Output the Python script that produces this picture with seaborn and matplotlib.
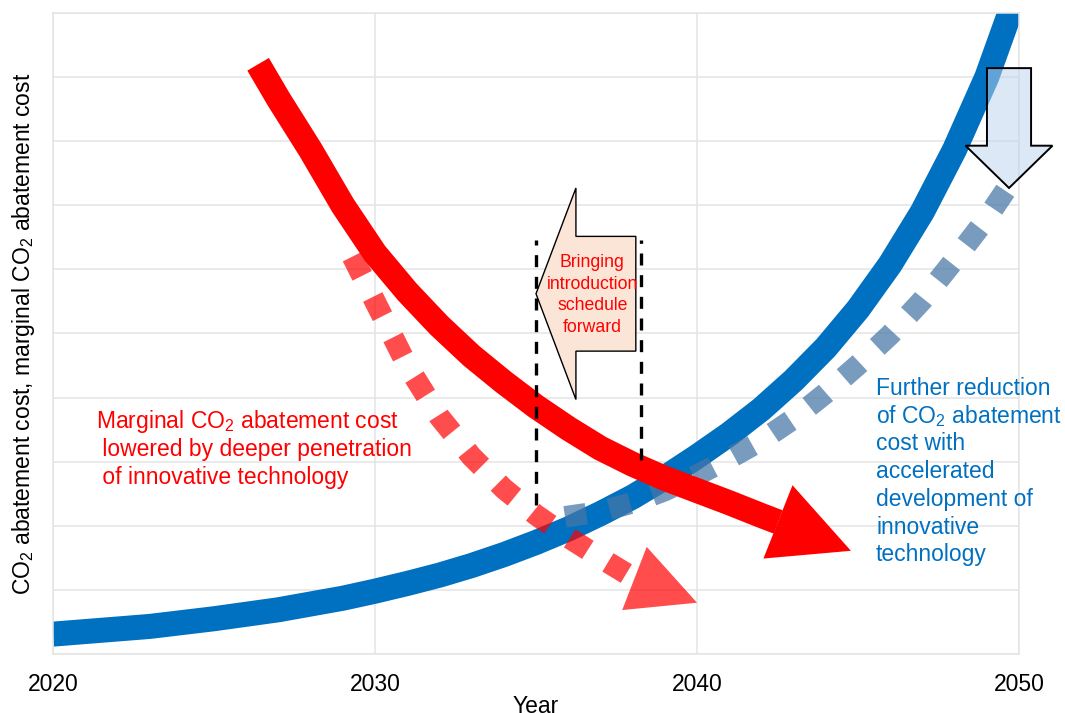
import matplotlib
matplotlib.use("Agg")
import matplotlib.pyplot as plt
import pandas as pd
import seaborn as sns
from matplotlib.patches import FancyArrow
from matplotlib.transforms import offset_copy

# CO2 abatement cost (rising)
cost_years = [2020, 2021, 2022, 2023, 2024, 2025, 2026, 2027, 2028, 2029, 2030,
              2031, 2032, 2033, 2034, 2035, 2036, 2037, 2038, 2039, 2040,
              2041, 2042, 2043, 2044, 2045, 2046, 2047, 2048, 2049, 2050]
cost_vals = [0.31, 0.35, 0.39, 0.43, 0.49, 0.55, 0.62, 0.69, 0.78, 0.87, 0.98,
             1.10, 1.23, 1.38, 1.55, 1.74, 1.95, 2.19, 2.45, 2.75, 3.08,
             3.43, 3.82, 4.27, 4.78, 5.38, 6.08, 6.90, 7.87, 9.00, 10.40]

# CO2 abatement cost with accelerated development (dotted)
acc_years = [2035.9, 2037, 2038, 2039, 2040, 2041, 2042, 2043, 2044, 2045, 2046,
             2047, 2048, 2049, 2049.7]
acc_vals = [2.14, 2.22, 2.36, 2.55, 2.79, 3.05, 3.33, 3.67, 4.07, 4.51, 4.98,
            5.52, 6.15, 6.80, 7.32]

# Marginal CO2 abatement cost (falling)
mac_years = [2026.37, 2027, 2028, 2029, 2030, 2031, 2032, 2033, 2034, 2035, 2036,
             2037, 2038, 2039, 2040, 2041, 2042, 2042.52]
mac_vals = [9.20, 8.66, 7.86, 7.00, 6.25, 5.65, 5.12, 4.65, 4.24, 3.86, 3.52,
            3.21, 2.96, 2.74, 2.55, 2.36, 2.16, 2.06]
mac_tip = (2044.78, 1.61)

# Marginal cost with deeper penetration of innovative technology (dotted)
deep_years = [2029.3, 2030, 2031, 2032, 2033, 2034, 2035, 2036, 2037, 2038.05]
deep_vals = [6.20, 5.50, 4.50, 3.70, 3.08, 2.58, 2.17, 1.82, 1.50, 1.18]
deep_tip = (2040.0, 0.80)

year_ticks = [2020, 2030, 2040, 2050]

RED = "#ff0000"
BLUE = "#0070c0"
STEEL = "#4676a6"
GRID = "#e4e4e4"
FS = 16.5

sns.set_theme(style="whitegrid")
plt.rcParams["font.family"] = ["Liberation Sans", "DejaVu Sans"]
plt.rcParams["mathtext.fontset"] = "custom"
plt.rcParams["mathtext.rm"] = "Liberation Sans"
plt.rcParams["mathtext.it"] = "Liberation Sans:italic"
plt.rcParams["mathtext.bf"] = "Liberation Sans:bold"

fig = plt.figure(figsize=(10.65, 7.13), dpi=100)
ax = fig.add_axes([53 / 1065, 1 - 654 / 713, 966 / 1065, 641 / 713])
ax.set_facecolor("white")

cost = pd.DataFrame({"year": cost_years, "value": cost_vals})
acc = pd.DataFrame({"year": acc_years, "value": acc_vals})
mac = pd.DataFrame({"year": mac_years, "value": mac_vals})
deep = pd.DataFrame({"year": deep_years, "value": deep_vals})

sns.lineplot(data=cost, x="year", y="value", ax=ax, color=BLUE, lw=18,
             solid_capstyle="butt", solid_joinstyle="round", sort=False,
             legend=False, zorder=2)
sns.lineplot(data=deep, x="year", y="value", ax=ax, color=RED, alpha=0.7, lw=15.5,
             linestyle=(0, (1.0, 1.1)), dash_capstyle="butt", sort=False,
             legend=False, zorder=3)
sns.lineplot(data=acc, x="year", y="value", ax=ax, color=STEEL, alpha=0.72, lw=15.5,
             linestyle=(0, (1.0, 1.1)), dash_capstyle="butt", sort=False,
             legend=False, zorder=4)
sns.lineplot(data=mac, x="year", y="value", ax=ax, color=RED, lw=18,
             solid_capstyle="butt", solid_joinstyle="round", sort=False,
             legend=False, zorder=5)

# arrowheads at the ends of the falling curves
ax.annotate("", xy=mac_tip, xytext=(mac_years[-1], mac_vals[-1]), zorder=5,
            arrowprops=dict(arrowstyle="-|>,head_length=56.5,head_width=28.4",
                            mutation_scale=1, color=RED, lw=0,
                            shrinkA=0, shrinkB=0))
ax.annotate("", xy=deep_tip, xytext=(deep_years[-1], deep_vals[-1]), zorder=3,
            arrowprops=dict(arrowstyle="-|>,head_length=48.3,head_width=24.4",
                            mutation_scale=1, color=RED, alpha=0.7, lw=0,
                            shrinkA=0, shrinkB=0))

# block arrow: bringing the schedule forward
ax.add_patch(FancyArrow(2038.10, 5.62, -3.10, 0, width=1.79, head_width=3.30,
                        head_length=1.24, length_includes_head=True,
                        facecolor="#fbe5d6", edgecolor="black", lw=1.0, zorder=6))
# block arrow: further cost reduction
ax.add_patch(FancyArrow(2049.69, 9.14, 0, -1.87, width=1.37, head_width=2.70,
                        head_length=0.66, length_includes_head=True,
                        facecolor=(188 / 255, 211 / 255, 236 / 255, 0.52),
                        edgecolor="black", lw=1.4, zorder=6, clip_on=False))

# dashed markers for the shift in introduction timing
ax.vlines([2035.0, 2038.26], [2.32, 3.03], [6.46, 6.46], colors="black", lw=2.4,
          linestyles=[(0, (3.6, 2.9))], zorder=7)

def text_block(lines, x, y, step_pt, **kw):
    for i, line in enumerate(lines):
        tr = offset_copy(ax.transData, fig=fig, x=0, y=-i * step_pt, units="points")
        ax.text(x, y, line, transform=tr, va="baseline", zorder=8, **kw)

text_block(["Bringing", "introduction", "schedule", "forward"], 2036.75, 6.03,
           15.4, ha="center", color=RED, fontsize=12.7)
text_block(["Marginal CO$_2$ abatement cost", " lowered by deeper penetration",
            " of innovative technology"], 2021.32, 3.526, 20.05,
           ha="left", color=RED, fontsize=FS)
text_block(["Further reduction", "of CO$_2$ abatement", "cost with", "accelerated",
            "development of", "innovative", "technology"], 2045.56, 4.04, 19.95,
           ha="left", color=BLUE, fontsize=FS)

ax.set_xlim(2020, 2050)
ax.set_ylim(0, 10)
ax.set_xticks(year_ticks)
ax.set_xticklabels([str(y) for y in year_ticks])
ax.set_yticks(range(0, 11))
ax.set_yticklabels([])
ax.tick_params(axis="both", length=0, labelsize=FS, labelcolor="black")
ax.tick_params(axis="x", pad=13.5)
ax.grid(True, color=GRID, lw=1.1)
ax.set_axisbelow(True)
for s in ax.spines.values():
    s.set_color(GRID)
    s.set_linewidth(1.1)

ax.set_xlabel("Year", fontsize=FS, color="black", labelpad=-0.5)
ax.set_ylabel("CO$_2$ abatement cost, marginal CO$_2$ abatement cost",
              fontsize=FS, color="black")
ax.yaxis.set_label_coords(-0.017, 0.5)

fig.savefig("out.png", dpi=100)
